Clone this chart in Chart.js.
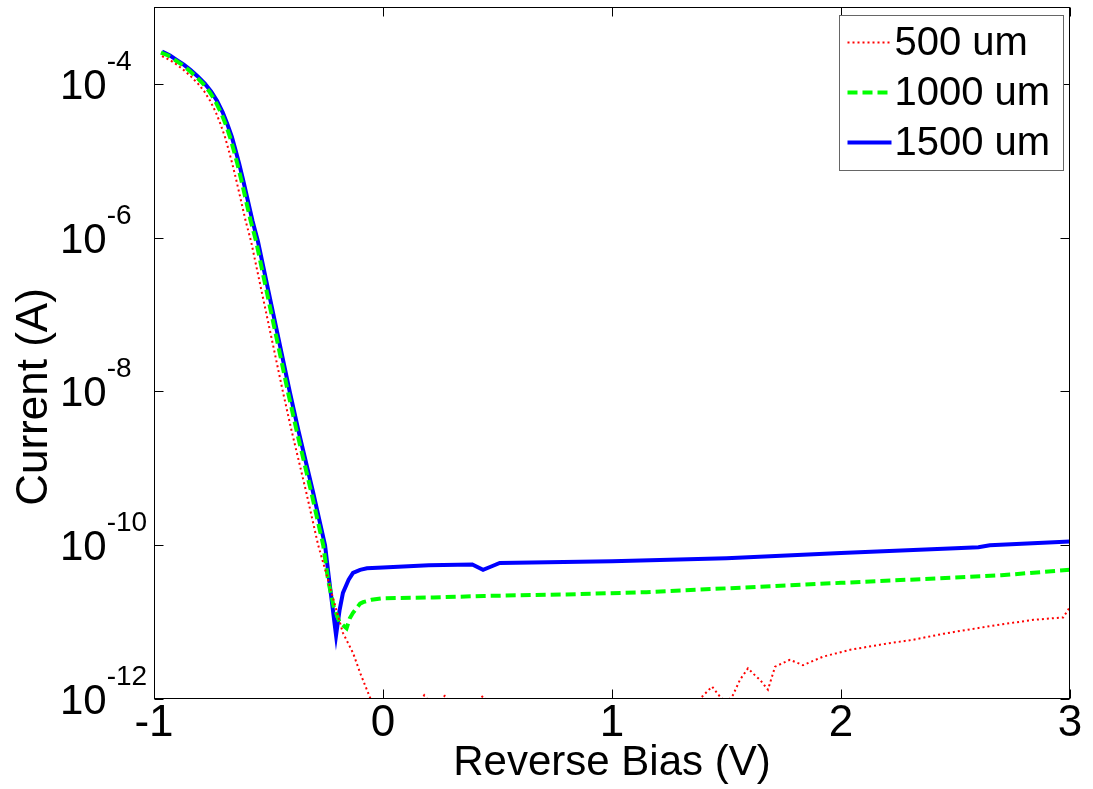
<!DOCTYPE html>
<html><head><meta charset="utf-8">
<script src="https://cdn.jsdelivr.net/npm/chart.js@4.4.1/dist/chart.umd.min.js"></script>
<style>html,body{margin:0;padding:0;background:#fff;overflow:hidden}canvas{display:block}</style>
</head><body>
<canvas id="c" width="1093" height="789"></canvas>
<script>
const seriesLabels = ['500 um', '1000 um', '1500 um'];

const v500 = [-0.965,-0.93,-0.90,-0.87,-0.84,-0.807,-0.78,-0.755,-0.73,-0.71,-0.69,-0.675,-0.658,-0.64,-0.62,-0.60,-0.576,-0.53,-0.48,-0.436,-0.40,-0.336,-0.283,-0.24,-0.205,-0.175,-0.131,-0.10,-0.065,-0.04,0.0,0.1,0.15,0.18,0.22,0.27,0.35,0.437,0.5,0.8,1.1,1.3,1.393,1.437,1.472,1.50,1.528,1.559,1.594,1.62,1.646,1.681,1.712,1.777,1.834,1.921,2.04,2.2,2.314,2.45,2.55,2.7,2.84,2.97,3.0];
const i500 = [2.29e-4,2.04e-4,1.78e-4,1.51e-4,1.26e-4,1.0e-4,7.94e-5,6.03e-5,4.27e-5,3.02e-5,2.04e-5,1.41e-5,9.12e-6,5.50e-6,3.02e-6,1.66e-6,8.91e-7,2.0e-7,3.98e-8,9.55e-9,3.16e-9,5.01e-10,1.0e-10,3.55e-11,1.48e-11,7.24e-12,3.98e-12,2.19e-12,1.20e-12,7.9e-13,6.3e-13,7.1e-13,8.0e-13,1.12e-12,8.0e-13,1.1e-12,6.0e-13,1.1e-12,5.0e-13,4.0e-13,5.0e-13,6.0e-13,1.07e-12,1.45e-12,1.07e-12,9.0e-13,1.12e-12,1.78e-12,2.51e-12,2.09e-12,1.78e-12,1.32e-12,2.63e-12,3.24e-12,2.75e-12,3.55e-12,4.37e-12,5.25e-12,5.89e-12,7.08e-12,7.94e-12,9.33e-12,1.07e-11,1.15e-11,1.58e-11];

const v1000 = [-0.97,-0.938,-0.908,-0.878,-0.848,-0.818,-0.785,-0.758,-0.733,-0.708,-0.688,-0.668,-0.653,-0.636,-0.618,-0.598,-0.578,-0.554,-0.508,-0.458,-0.414,-0.378,-0.314,-0.261,-0.24,-0.215,-0.19,-0.159,-0.145,-0.131,-0.10,-0.087,-0.05,0.0,0.22,0.44,0.8,1.15,1.5,2.0,2.5,2.7,3.0];
const i1000 = [2.55e-4,2.34e-4,2.04e-4,1.78e-4,1.51e-4,1.26e-4,1.0e-4,7.94e-5,6.03e-5,4.27e-5,3.02e-5,2.04e-5,1.41e-5,9.12e-6,5.50e-6,3.02e-6,1.66e-6,8.91e-7,2.0e-7,3.98e-8,9.55e-9,3.16e-9,5.01e-10,1.0e-10,3.55e-11,1.58e-11,1.0e-11,8.3e-12,1.12e-11,1.32e-11,1.74e-11,1.82e-11,1.95e-11,2.04e-11,2.09e-11,2.19e-11,2.29e-11,2.45e-11,2.75e-11,3.24e-11,3.80e-11,4.07e-11,4.79e-11];

const v1500 = [-0.965,-0.93,-0.90,-0.87,-0.84,-0.81,-0.777,-0.75,-0.725,-0.70,-0.68,-0.66,-0.645,-0.628,-0.61,-0.59,-0.57,-0.546,-0.50,-0.45,-0.406,-0.37,-0.306,-0.253,-0.235,-0.205,-0.19,-0.175,-0.15,-0.131,-0.10,-0.07,0.0,0.2,0.39,0.437,0.47,0.51,1.0,1.5,2.0,2.5,2.6,2.65,3.0];
const i1500 = [2.63e-4,2.34e-4,2.04e-4,1.78e-4,1.51e-4,1.26e-4,1.0e-4,7.94e-5,6.03e-5,4.27e-5,3.02e-5,2.04e-5,1.41e-5,9.12e-6,5.50e-6,3.02e-6,1.66e-6,8.91e-7,2.0e-7,3.98e-8,9.55e-9,3.16e-9,5.01e-10,1.0e-10,3.5e-11,6.76e-12,1.41e-11,2.40e-11,3.55e-11,4.37e-11,4.79e-11,5.01e-11,5.13e-11,5.50e-11,5.62e-11,4.79e-11,5.25e-11,5.89e-11,6.17e-11,6.76e-11,7.94e-11,9.12e-11,9.4e-11,1.0e-10,1.12e-10];

const xTickValues = [-1, 0, 1, 2, 3];
const yTickExponents = [-12, -10, -8, -6, -4];
const xTitle = 'Reverse Bias (V)';
const yTitle = 'Current (A)';

const FONT = '"Liberation Sans", Arial, Helvetica, sans-serif';

function pts(vs, is) { return vs.map((v, k) => ({ x: v, y: is[k] })); }

const framePlugin = {
  id: 'frame',
  afterDraw(chart) {
    const { ctx, chartArea: a, scales: { x, y } } = chart;
    ctx.save();
    const L = Math.round(a.left) + 0.5, R = Math.round(a.right) - 0.5;
    const T = Math.round(a.top) + 0.5, B = Math.round(a.bottom) - 0.5;
    ctx.strokeStyle = '#000';
    ctx.lineWidth = 1;
    ctx.strokeRect(L, T, R - L, B - T);
    const tl = 9;
    ctx.beginPath();
    xTickValues.forEach(v => {
      const px = Math.round(x.getPixelForValue(v)) + 0.5;
      ctx.moveTo(px, B); ctx.lineTo(px, B - tl);
      ctx.moveTo(px, T); ctx.lineTo(px, T + tl);
    });
    yTickExponents.forEach(e => {
      const py = Math.round(y.getPixelForValue(Math.pow(10, e))) + 0.5;
      ctx.moveTo(L, py); ctx.lineTo(L + tl, py);
      ctx.moveTo(R, py); ctx.lineTo(R - tl, py);
    });
    ctx.stroke();

    // y tick labels with superscript exponents
    ctx.fillStyle = '#000';
    ctx.textAlign = 'left';
    ctx.textBaseline = 'alphabetic';
    yTickExponents.forEach(e => {
      const py = y.getPixelForValue(Math.pow(10, e));
      ctx.font = '42px ' + FONT;
      ctx.fillText('10', 60, py + 15);
      const w = ctx.measureText('10').width;
      ctx.font = '28px ' + FONT;
      ctx.fillText(String(e), 60 + w, py - 14);
    });

    // y axis title
    ctx.save();
    ctx.translate(35, 397);
    ctx.rotate(-Math.PI / 2);
    ctx.font = '44px ' + FONT;
    ctx.textAlign = 'center';
    ctx.textBaseline = 'middle';
    ctx.fillText(yTitle, 0, 0);
    ctx.restore();

    // legend box
    const ds = chart.data.datasets;
    const bx = Math.round(a.right) - 231 + 0.5, by = Math.round(a.top) + 8 + 0.5;
    const bw = 224, bh = 155;
    ctx.fillStyle = '#fff';
    ctx.fillRect(bx, by, bw, bh);
    ctx.strokeStyle = '#666';
    ctx.lineWidth = 1;
    ctx.strokeRect(bx, by, bw, bh);
    ds.forEach((d, k) => {
      const cy = by + 27 + k * 50;
      ctx.save();
      ctx.strokeStyle = d.borderColor;
      ctx.lineWidth = d.borderWidth;
      ctx.setLineDash(d.borderDash || []);
      ctx.beginPath();
      ctx.moveTo(bx + 8, cy); ctx.lineTo(bx + 52, cy);
      ctx.stroke();
      ctx.restore();
      ctx.fillStyle = '#000';
      ctx.font = '40px ' + FONT;
      ctx.textAlign = 'left';
      ctx.textBaseline = 'middle';
      ctx.fillText(d.label, bx + 55, cy + 1);
    });
    ctx.restore();
  }
};

new Chart(document.getElementById('c'), {
  type: 'line',
  data: {
    datasets: [
      { label: seriesLabels[0], data: pts(v500, i500), borderColor: '#ff0000', borderWidth: 2, borderDash: [2, 3], pointRadius: 0, tension: 0, fill: false },
      { label: seriesLabels[1], data: pts(v1000, i1000), borderColor: '#00ff00', borderWidth: 4, borderDash: [10, 5], pointRadius: 0, tension: 0, fill: false },
      { label: seriesLabels[2], data: pts(v1500, i1500), borderColor: '#0000ff', borderWidth: 4, pointRadius: 0, tension: 0, fill: false }
    ]
  },
  options: {
    responsive: false,
    animation: false,
    events: [],
    devicePixelRatio: 1,
    layout: { padding: { top: 7, right: 23, left: 0, bottom: 0 } },
    plugins: { legend: { display: false }, tooltip: { enabled: false } },
    scales: {
      x: {
        type: 'linear', position: 'bottom', min: -1, max: 3,
        afterBuildTicks: s => { s.ticks = xTickValues.map(v => ({ value: v })); },
        afterFit: s => { s.height = 90; },
        grid: { display: false, drawTicks: false },
        border: { display: false },
        ticks: { color: '#000', font: { family: FONT, size: 44, lineHeight: 1 }, padding: 3, maxRotation: 0, autoSkip: false },
        title: { display: true, text: xTitle, color: '#000', font: { family: FONT, size: 42, lineHeight: 1 }, padding: { top: 0, bottom: 5 } }
      },
      y: {
        type: 'logarithmic', position: 'left', min: 1e-12, max: 1e-3,
        afterFit: s => { s.width = 154; },
        grid: { display: false, drawTicks: false },
        border: { display: false },
        ticks: { display: false },
        title: { display: false, text: yTitle }
      }
    }
  },
  plugins: [framePlugin]
});
</script>
</body></html>
